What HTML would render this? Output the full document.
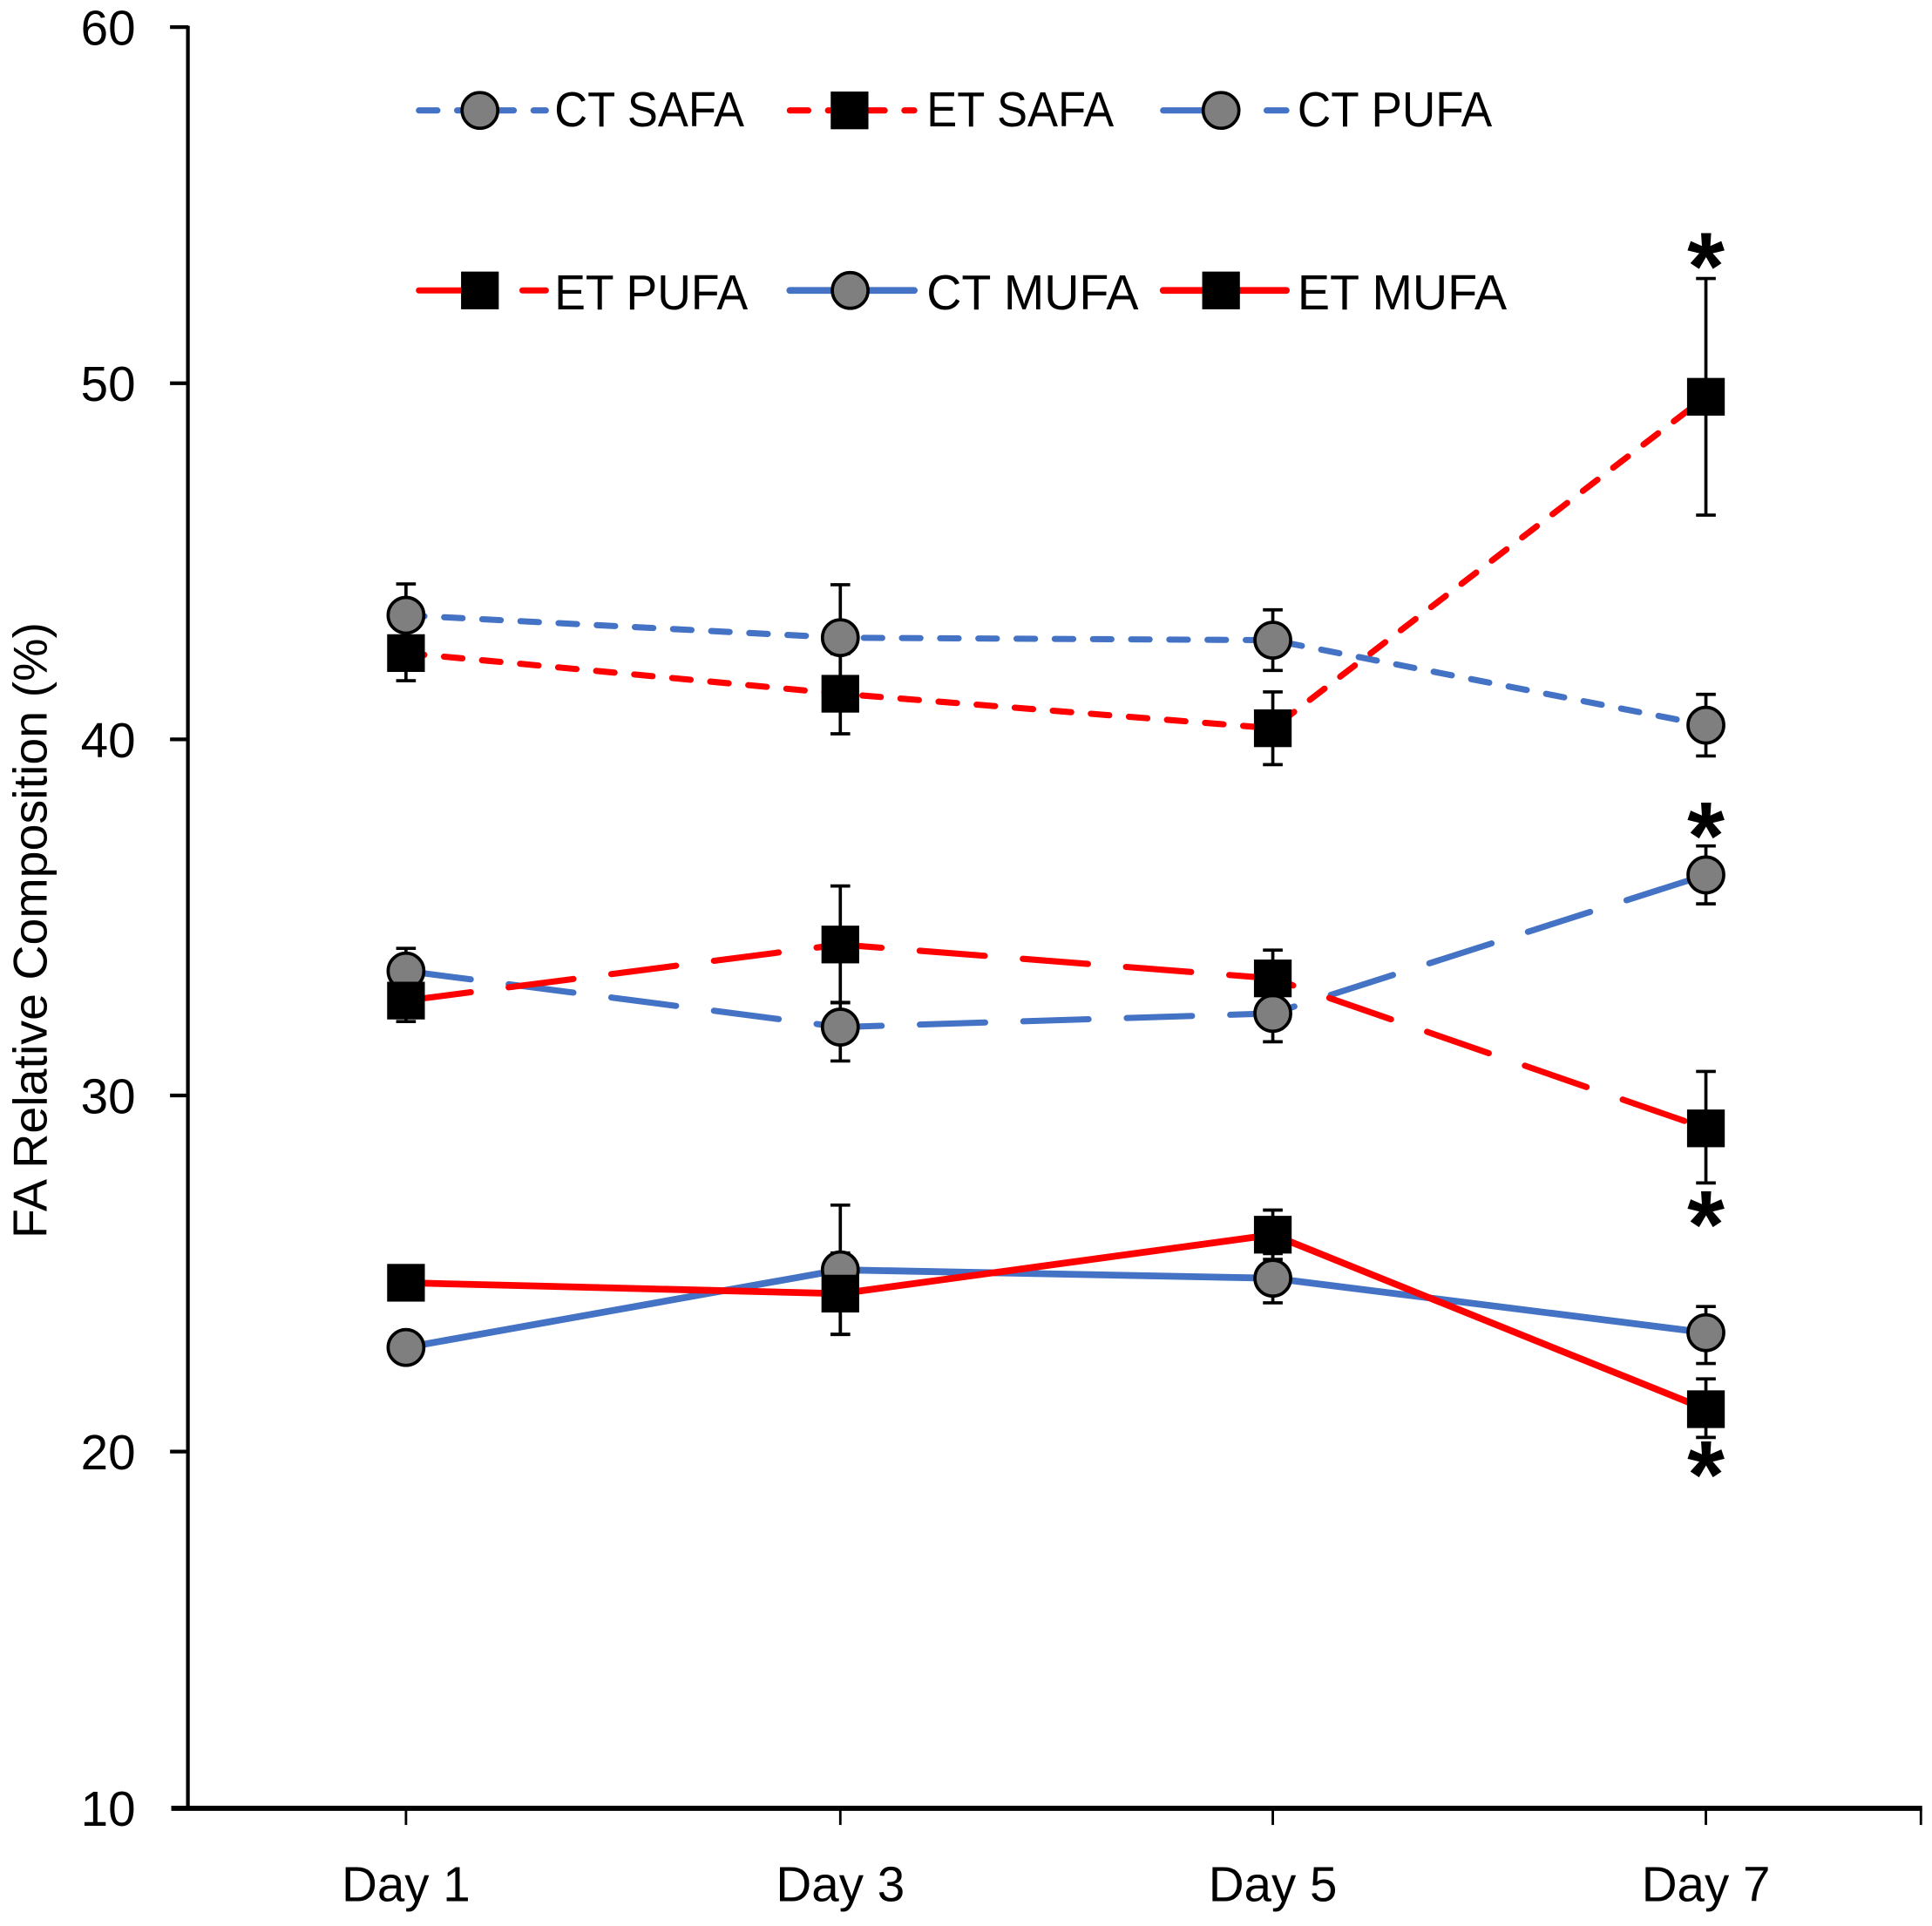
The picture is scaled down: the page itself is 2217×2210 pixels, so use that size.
<!DOCTYPE html>
<html>
<head>
<meta charset="utf-8">
<style>
  html, body { margin: 0; padding: 0; background: #ffffff; }
  svg { display: block; }
  text { font-family: "Liberation Sans", "DejaVu Sans", sans-serif; fill: #000; }
</style>
</head>
<body>
<svg width="2217" height="2210" viewBox="0 0 1568 1563" preserveAspectRatio="none" xmlns="http://www.w3.org/2000/svg">
  <rect x="0" y="0" width="1568" height="1563" fill="#ffffff"/>

  <!-- Axes -->
  <g stroke="#000" fill="none">
    <line x1="152.5" y1="21" x2="152.5" y2="1469" stroke-width="3"/>
    <line x1="139" y1="1467.5" x2="1560" y2="1467.5" stroke-width="4.2"/>
    <!-- y ticks -->
    <line x1="138" y1="22" x2="153" y2="22" stroke-width="3"/>
    <line x1="138" y1="311" x2="153" y2="311" stroke-width="3"/>
    <line x1="138" y1="600" x2="153" y2="600" stroke-width="3"/>
    <line x1="138" y1="889" x2="153" y2="889" stroke-width="3"/>
    <line x1="138" y1="1178" x2="153" y2="1178" stroke-width="3"/>
    <!-- x ticks -->
    <line x1="329.5" y1="1467" x2="329.5" y2="1481" stroke-width="2"/>
    <line x1="682" y1="1467" x2="682" y2="1481" stroke-width="2"/>
    <line x1="1033" y1="1467" x2="1033" y2="1481" stroke-width="2"/>
    <line x1="1384.5" y1="1467" x2="1384.5" y2="1481" stroke-width="2"/>
    <line x1="1559" y1="1467" x2="1559" y2="1481" stroke-width="2"/>
  </g>

  <!-- Y tick labels -->
  <g font-size="40" text-anchor="end">
    <text x="110" y="36.5">60</text>
    <text x="110" y="325.5">50</text>
    <text x="110" y="614.5">40</text>
    <text x="110" y="903.5">30</text>
    <text x="110" y="1192.5">20</text>
    <text x="110" y="1481.5">10</text>
  </g>

  <!-- X tick labels -->
  <g font-size="40" text-anchor="middle">
    <text x="329.5" y="1543">Day 1</text>
    <text x="682" y="1543">Day 3</text>
    <text x="1033" y="1543">Day 5</text>
    <text x="1384.5" y="1543">Day 7</text>
  </g>

  <!-- Y axis title -->
  <text transform="translate(38,755) rotate(-90)" font-size="38.5" text-anchor="middle" textLength="500" lengthAdjust="spacingAndGlyphs">FA Relative Composition (%)</text>

  <!-- ===== Series lines ===== -->
  <polyline points="329.5,499.3 682,517.5 1033,519.5 1384.5,588.5" fill="none" stroke="#4472C4" stroke-width="5" stroke-linecap="round" stroke-dasharray="15 16"/>
  <polyline points="329.5,530 682,563 1033,591 1384.5,322" fill="none" stroke="#FF0000" stroke-width="5" stroke-linecap="round" stroke-dasharray="15 16"/>
  <polyline points="329.5,788 682,833.5 1033,822.4 1384.5,710" fill="none" stroke="#4472C4" stroke-width="5" stroke-linecap="round" stroke-dasharray="53 31"/>
  <polyline points="329.5,812 682,766.5 1033,794 1384.5,915.7" fill="none" stroke="#FF0000" stroke-width="5" stroke-linecap="round" stroke-dasharray="53 31"/>
  <polyline points="329.5,1093.5 682,1030.5 1033,1037.3 1384.5,1081.5" fill="none" stroke="#4472C4" stroke-width="5.5" stroke-linejoin="round"/>
  <polyline points="329.5,1041 682,1049.8 1033,1002 1384.5,1143.6" fill="none" stroke="#FF0000" stroke-width="5.5" stroke-linejoin="round"/>

  <!-- ===== Error bars ===== -->
  <g stroke="#000" stroke-width="2.6" fill="none">
    <path d="M329.5,473.9V524.7M321.5,473.9H337.5M321.5,524.7H337.5"/>
    <path d="M682,474.5V560.5M674,474.5H690M674,560.5H690"/>
    <path d="M1033,494.9V544.1M1025,494.9H1041M1025,544.1H1041"/>
    <path d="M1384.5,563.5V613.5M1376.5,563.5H1392.5M1376.5,613.5H1392.5"/>
    <path d="M329.5,507.6V552.4M321.5,507.6H337.5M321.5,552.4H337.5"/>
    <path d="M682,530.5V595.5M674,530.5H690M674,595.5H690"/>
    <path d="M1033,561.5V620.5M1025,561.5H1041M1025,620.5H1041"/>
    <path d="M1384.5,226V418M1376.5,226H1392.5M1376.5,418H1392.5"/>
    <path d="M329.5,769.6V806.4M321.5,769.6H337.5M321.5,806.4H337.5"/>
    <path d="M682,813.8V861M674,813.8H690M674,861H690"/>
    <path d="M1033,799.4V845.4M1025,799.4H1041M1025,845.4H1041"/>
    <path d="M1384.5,686.5V733.5M1376.5,686.5H1392.5M1376.5,733.5H1392.5"/>
    <path d="M329.5,795V829M321.5,795H337.5M321.5,829H337.5"/>
    <path d="M682,719V813.5M674,719H690M674,813.5H690"/>
    <path d="M1033,771V817M1025,771H1041M1025,817H1041"/>
    <path d="M1384.5,869.5V960M1376.5,869.5H1392.5M1376.5,960H1392.5"/>
    <path d="M682,978V1083M674,978H690M674,1083H690"/>
    <path d="M1033,1017.3V1057.3M1025,1017.3H1041M1025,1057.3H1041"/>
    <path d="M1384.5,1060.3V1106.5M1376.5,1060.3H1392.5M1376.5,1106.5H1392.5"/>
    <path d="M682,1016.8V1082.8M674,1016.8H690M674,1082.8H690"/>
    <path d="M1033,982V1022M1025,982H1041M1025,1022H1041"/>
    <path d="M1384.5,1119V1166.5M1376.5,1119H1392.5M1376.5,1166.5H1392.5"/>
  </g>

  <!-- ===== Markers ===== -->
  <g stroke="#000" stroke-width="2.6">
    <circle cx="329.5" cy="499.3" r="14.5" fill="#7f7f7f"/>
    <circle cx="682" cy="517.5" r="14.5" fill="#7f7f7f"/>
    <circle cx="1033" cy="519.5" r="14.5" fill="#7f7f7f"/>
    <circle cx="1384.5" cy="588.5" r="14.5" fill="#7f7f7f"/>
    <rect x="315.5" y="516" width="28" height="28" fill="#000"/>
    <rect x="668" y="549" width="28" height="28" fill="#000"/>
    <rect x="1019" y="577" width="28" height="28" fill="#000"/>
    <rect x="1370.5" y="308" width="28" height="28" fill="#000"/>
    <circle cx="329.5" cy="788" r="14.5" fill="#7f7f7f"/>
    <circle cx="682" cy="833.5" r="14.5" fill="#7f7f7f"/>
    <circle cx="1033" cy="822.4" r="14.5" fill="#7f7f7f"/>
    <circle cx="1384.5" cy="710" r="14.5" fill="#7f7f7f"/>
    <rect x="315.5" y="798" width="28" height="28" fill="#000"/>
    <rect x="668" y="752.5" width="28" height="28" fill="#000"/>
    <rect x="1019" y="780" width="28" height="28" fill="#000"/>
    <rect x="1370.5" y="901.7" width="28" height="28" fill="#000"/>
    <circle cx="329.5" cy="1093.5" r="14.5" fill="#7f7f7f"/>
    <circle cx="682" cy="1030.5" r="14.5" fill="#7f7f7f"/>
    <circle cx="1033" cy="1037.3" r="14.5" fill="#7f7f7f"/>
    <circle cx="1384.5" cy="1081.5" r="14.5" fill="#7f7f7f"/>
    <rect x="315.5" y="1027" width="28" height="28" fill="#000"/>
    <rect x="668" y="1035.8" width="28" height="28" fill="#000"/>
    <rect x="1019" y="988" width="28" height="28" fill="#000"/>
    <rect x="1370.5" y="1129.6" width="28" height="28" fill="#000"/>
  </g>

  <!-- Significance asterisks -->
  <g font-size="78" font-weight="bold" text-anchor="middle">
    <text x="1384.5" y="243">*</text>
    <text x="1384.5" y="705">*</text>
    <text x="1384.5" y="1020.5">*</text>
    <text x="1384.5" y="1223.5">*</text>
  </g>

  <!-- ===== Legend ===== -->
  <line x1="340" y1="89.6" x2="443" y2="89.6" stroke="#4472C4" stroke-width="5" stroke-linecap="round" stroke-dasharray="15 16"/>
  <circle cx="389.5" cy="89.6" r="14.5" fill="#7f7f7f" stroke="#000" stroke-width="2.6"/>
  <text x="450" y="102.5" font-size="40" textLength="154" lengthAdjust="spacingAndGlyphs">CT SAFA</text>

  <line x1="641" y1="89.6" x2="742" y2="89.6" stroke="#FF0000" stroke-width="5" stroke-linecap="round" stroke-dasharray="15 16"/>
  <rect x="675.5" y="75.6" width="28" height="28" fill="#000" stroke="#000" stroke-width="2.6"/>
  <text x="752" y="102.5" font-size="40" textLength="152" lengthAdjust="spacingAndGlyphs">ET SAFA</text>

  <line x1="944" y1="89.6" x2="1044" y2="89.6" stroke="#4472C4" stroke-width="5" stroke-linecap="round" stroke-dasharray="53 31"/>
  <circle cx="991" cy="89.6" r="14.5" fill="#7f7f7f" stroke="#000" stroke-width="2.6"/>
  <text x="1053" y="102.5" font-size="40" textLength="158" lengthAdjust="spacingAndGlyphs">CT PUFA</text>

  <line x1="340" y1="235.7" x2="443" y2="235.7" stroke="#FF0000" stroke-width="5" stroke-linecap="round" stroke-dasharray="53 31"/>
  <rect x="375.5" y="221.7" width="28" height="28" fill="#000" stroke="#000" stroke-width="2.6"/>
  <text x="450" y="251" font-size="40" textLength="157" lengthAdjust="spacingAndGlyphs">ET PUFA</text>

  <line x1="641" y1="235.7" x2="742" y2="235.7" stroke="#4472C4" stroke-width="5.5" stroke-linecap="round"/>
  <circle cx="690" cy="235.7" r="14.5" fill="#7f7f7f" stroke="#000" stroke-width="2.6"/>
  <text x="752" y="251" font-size="40" textLength="172" lengthAdjust="spacingAndGlyphs">CT MUFA</text>

  <line x1="944" y1="235.7" x2="1044" y2="235.7" stroke="#FF0000" stroke-width="5.5" stroke-linecap="round"/>
  <rect x="977" y="221.7" width="28" height="28" fill="#000" stroke="#000" stroke-width="2.6"/>
  <text x="1053" y="251" font-size="40" textLength="170" lengthAdjust="spacingAndGlyphs">ET MUFA</text>
</svg>
</body>
</html>
